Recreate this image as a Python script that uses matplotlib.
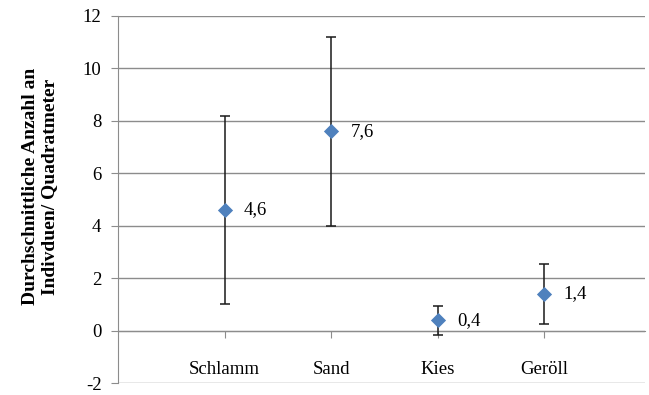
import matplotlib.pyplot as plt

plt.rcParams['font.family'] = ['Liberation Serif', 'DejaVu Serif']

categories = ["Schlamm", "Sand", "Kies", "Geröll"]
means = [4.6, 7.6, 0.4, 1.4]
errors = [3.6, 3.6, 0.55, 1.15]
value_labels = ["4,6", "7,6", "0,4", "1,4"]
yticks = [-2, 0, 2, 4, 6, 8, 10, 12]

fig = plt.figure(figsize=(6.49, 3.95), dpi=100)
ax = fig.add_axes([0.182, 0.030, 0.812, 0.930])

xs = list(range(1, len(categories) + 1))
ax.errorbar(xs, means, yerr=errors, fmt='none', ecolor='#1a1a1a',
            elinewidth=1.1, capsize=3.5, capthick=1.1, zorder=3)
ax.scatter(xs, means, marker='D', s=60, color='#4F81BD', zorder=4, linewidths=0)
for x, m, lab in zip(xs, means, value_labels):
    ax.annotate(lab, (x, m), xytext=(14, 0), textcoords='offset points',
                va='center', ha='left', fontsize=13.5)

ax.set_xlim(0, 4.95)
ax.set_ylim(-2, 12)
ax.set_yticks(yticks)
ax.set_yticklabels([str(t) for t in yticks], fontsize=13.5)
ax.grid(axis='y', color='#8c8c8c', linewidth=1.0)
ax.set_axisbelow(True)

for s in ['top', 'right']:
    ax.spines[s].set_visible(False)
ax.spines['left'].set_color('#8c8c8c')
ax.spines['bottom'].set_position(('data', 0))
ax.spines['bottom'].set_color('#8c8c8c')
ax.tick_params(axis='y', length=5, color='#8c8c8c', pad=7)
ax.set_xticks(xs)
ax.set_xticklabels(categories, fontsize=13.5)
ax.tick_params(axis='x', length=5, color='#8c8c8c', pad=17)

ax.set_ylabel("Durchschnittliche Anzahl an\nIndivduen/ Quadratmeter",
              fontsize=14, fontweight='bold', labelpad=18, linespacing=1.15)
ax.yaxis.label.set_y(0.535)

fig.savefig("out.png", dpi=100)
